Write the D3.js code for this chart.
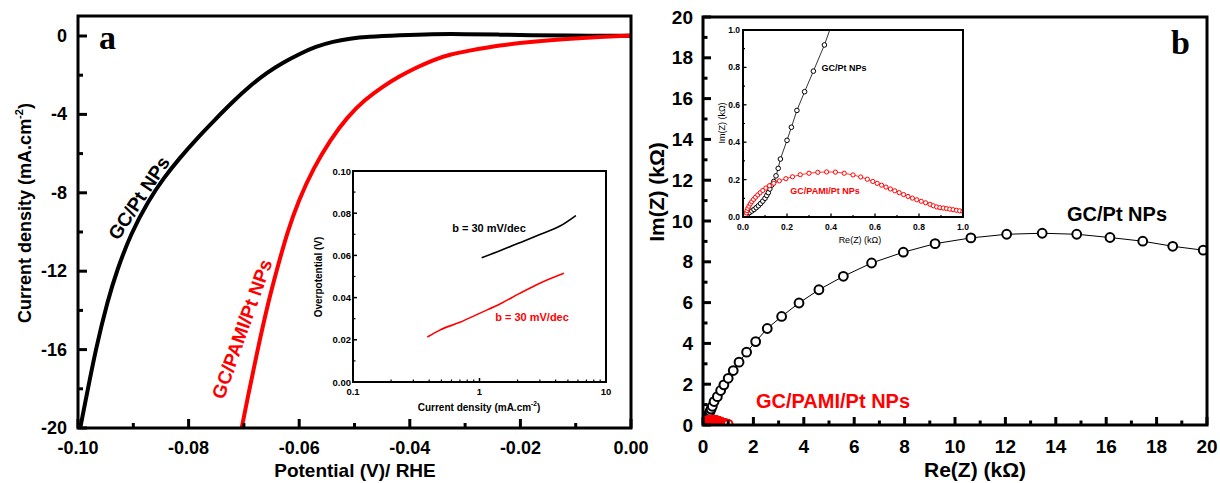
<!DOCTYPE html>
<html>
<head>
<meta charset="utf-8">
<script src="https://cdn.jsdelivr.net/npm/d3@7"></script>
<style>
  body { margin: 0; background: #fff; }
  svg { display: block; }
  text { font-family: "Liberation Sans", Arial, sans-serif; font-weight: bold; }
</style>
</head>
<body>
<svg id="chart" width="1220" height="483"></svg>
<script>
// ---- Polarization curves: [potential (V vs RHE), current density (mA/cm2)]
const lsvPt = [
  [-0.0996, -20.0], [-0.0986, -18.57], [-0.0968, -15.97], [-0.0946, -13.47], [-0.0930, -11.99],
  [-0.0904, -10.05], [-0.0873, -8.42], [-0.0845, -7.24], [-0.0816, -6.22], [-0.0786, -5.26],
  [-0.0753, -4.29], [-0.0719, -3.32], [-0.0687, -2.50], [-0.0658, -1.86], [-0.0629, -1.35],
  [-0.0600, -0.92], [-0.0570, -0.54], [-0.0539, -0.28], [-0.0508, -0.13], [-0.0477, -0.04],
  [-0.0418, 0.04], [-0.0360, 0.10], [-0.0300, 0.10], [-0.0240, 0.07], [-0.0180, 0.04],
  [-0.0120, 0.02], [0, 0.01]
];
const lsvPamiPt = [
  [-0.0704, -20.0], [-0.0694, -18.57], [-0.0675, -15.97], [-0.0655, -13.47], [-0.0641, -11.99],
  [-0.0622, -10.05], [-0.0601, -8.37], [-0.0574, -6.73], [-0.0544, -5.31], [-0.0513, -4.13],
  [-0.0481, -3.24], [-0.0450, -2.60], [-0.0420, -2.07], [-0.0388, -1.61], [-0.0358, -1.22],
  [-0.0327, -0.94], [-0.0297, -0.77], [-0.0237, -0.46], [-0.0177, -0.29], [-0.0116, -0.15],
  [-0.0056, -0.05], [0, 0.02]
];

// ---- Tafel plots: [current density (mA/cm2), overpotential (V)]
const tafelPt = [[1.04, 0.0589], [1.45, 0.0622], [2.08, 0.0660], [3.0, 0.0699], [4.33, 0.0739], [5.78, 0.0789]];
const tafelPamiPt = [[0.387, 0.0213], [0.485, 0.0246], [0.70, 0.0283], [1.04, 0.0330], [1.45, 0.0370],
  [2.08, 0.0420], [3.0, 0.0468], [4.65, 0.0515]];
const tafelSlopeLabel = "b = 30 mV/dec";

// ---- Nyquist plots: [Re(Z) (kOhm), Im(Z) (kOhm)]
const eisPt = [
  [0.008, 0.0], [0.015, 0.008], [0.022, 0.016], [0.030, 0.024], [0.040, 0.032], [0.050, 0.040],
  [0.060, 0.050], [0.070, 0.060], [0.080, 0.072], [0.090, 0.085], [0.100, 0.100], [0.108, 0.115],
  [0.115, 0.130], [0.122, 0.150], [0.130, 0.170], [0.140, 0.190], [0.150, 0.220], [0.160, 0.260],
  [0.170, 0.310], [0.200, 0.410], [0.220, 0.480], [0.245, 0.570], [0.280, 0.670], [0.320, 0.780],
  [0.370, 0.920], [0.44, 1.15], [0.57, 1.39], [0.70, 1.69], [0.83, 1.97], [1.00, 2.29],
  [1.20, 2.67], [1.43, 3.08], [1.73, 3.57], [2.09, 4.09], [2.55, 4.73], [3.12, 5.32],
  [3.81, 5.98], [4.60, 6.63], [5.57, 7.29], [6.69, 7.94], [7.95, 8.47], [9.21, 8.89],
  [10.63, 9.17], [12.05, 9.35], [13.46, 9.40], [14.83, 9.35], [16.15, 9.19], [17.45, 9.01],
  [18.64, 8.76], [19.85, 8.57]
];
const eisPamiPt = [
  [0.010, 0.000], [0.012, 0.010], [0.015, 0.022], [0.018, 0.034], [0.022, 0.046], [0.027, 0.058],
  [0.033, 0.070], [0.040, 0.082], [0.048, 0.094], [0.057, 0.106], [0.067, 0.118], [0.078, 0.130],
  [0.090, 0.142], [0.104, 0.155], [0.120, 0.167], [0.140, 0.180], [0.165, 0.193], [0.195, 0.205],
  [0.225, 0.215], [0.260, 0.226], [0.300, 0.234], [0.340, 0.239], [0.380, 0.241], [0.420, 0.240],
  [0.460, 0.234], [0.500, 0.225], [0.535, 0.214], [0.565, 0.202], [0.590, 0.190], [0.610, 0.180],
  [0.630, 0.170], [0.650, 0.160], [0.670, 0.150], [0.690, 0.140], [0.710, 0.130], [0.730, 0.120],
  [0.750, 0.110], [0.770, 0.101], [0.790, 0.092], [0.810, 0.084], [0.830, 0.076], [0.850, 0.068],
  [0.865, 0.060], [0.880, 0.054], [0.895, 0.050], [0.910, 0.048], [0.925, 0.045], [0.940, 0.042],
  [0.955, 0.039], [0.970, 0.036], [0.985, 0.033], [1.000, 0.030]
];

// ---- Tick values
const lsvXTicks = [-0.10, -0.08, -0.06, -0.04, -0.02, 0.00];
const lsvXMinor = [-0.09, -0.07, -0.05, -0.03, -0.01];
const lsvYTicks = [-20, -16, -12, -8, -4, 0];
const lsvYMinor = [-18, -14, -10, -6, -2];
const tafelXTicks = [0.1, 1, 10];
const tafelXMinor = [0.2, 0.3, 0.4, 0.5, 0.6, 0.7, 0.8, 0.9, 2, 3, 4, 5, 6, 7, 8, 9];
const tafelYTicks = [0.00, 0.02, 0.04, 0.06, 0.08, 0.10];
const tafelYMinor = [0.01, 0.03, 0.05, 0.07, 0.09];
const eisTicks = [0, 2, 4, 6, 8, 10, 12, 14, 16, 18, 20];
const eisMinor = [1, 3, 5, 7, 9, 11, 13, 15, 17, 19];
const eisInsetTicks = [0.0, 0.2, 0.4, 0.6, 0.8, 1.0];
const eisInsetMinor = [0.1, 0.3, 0.5, 0.7, 0.9];

const RED = "#ff0000";
const svg = d3.select("#chart");

// inward tick marks along a horizontal (bottom) axis
function xTicks(g, scale, values, yPos, len, sw) {
  g.selectAll(null).data(values).join("line")
    .attr("x1", d => scale(d)).attr("x2", d => scale(d))
    .attr("y1", yPos).attr("y2", yPos - len)
    .attr("stroke", "#000").attr("stroke-width", sw);
}
// inward tick marks along a vertical (left) axis
function yTicks(g, scale, values, xPos, len, sw) {
  g.selectAll(null).data(values).join("line")
    .attr("y1", d => scale(d)).attr("y2", d => scale(d))
    .attr("x1", xPos).attr("x2", xPos + len)
    .attr("stroke", "#000").attr("stroke-width", sw);
}
function xLabels(g, scale, values, yPos, size, fmt) {
  g.selectAll(null).data(values).join("text")
    .attr("x", d => scale(d)).attr("y", yPos)
    .attr("text-anchor", "middle").attr("dominant-baseline", "central")
    .attr("font-size", size).text(fmt);
}
function yLabels(g, scale, values, xPos, size, fmt) {
  g.selectAll(null).data(values).join("text")
    .attr("x", xPos).attr("y", d => scale(d))
    .attr("text-anchor", "end").attr("dominant-baseline", "central")
    .attr("font-size", size).text(fmt);
}
function frame(g, x0, y0, x1, y1, sw) {
  g.append("rect").attr("x", x0).attr("y", y0).attr("width", x1 - x0).attr("height", y1 - y0)
    .attr("fill", "none").attr("stroke", "#000").attr("stroke-width", sw);
}
function clipRect(id, x0, y0, x1, y1) {
  svg.append("defs").append("clipPath").attr("id", id)
    .append("rect").attr("x", x0).attr("y", y0).attr("width", x1 - x0).attr("height", y1 - y0);
  return `url(#${id})`;
}

// ================= Panel a: polarization curves =================
{
  const L = 78, R = 631, T = 16, B = 428;
  const x = d3.scaleLinear([-0.1, 0], [L, R]);
  const y = d3.scaleLinear([-20, 1.02], [B, T]);
  const g = svg.append("g");
  const line = d3.line().x(d => x(d[0])).y(d => y(d[1])).curve(d3.curveBasis);
  const clip = clipRect("clipA", L, T, R, B);
  const curves = g.append("g").attr("clip-path", clip);
  curves.append("path").attr("d", line(lsvPt)).attr("fill", "none").attr("stroke", "#000")
    .attr("stroke-width", 4).attr("stroke-linejoin", "round");
  curves.append("path").attr("d", line(lsvPamiPt)).attr("fill", "none").attr("stroke", RED)
    .attr("stroke-width", 4).attr("stroke-linejoin", "round");

  xTicks(g, x, lsvXTicks, B, 9, 3);
  xTicks(g, x, lsvXMinor, B, 5, 3);
  yTicks(g, y, lsvYTicks, L, 9, 3);
  yTicks(g, y, lsvYMinor, L, 5, 3);
  frame(g, L, T, R, B, 3);
  xLabels(g, x, lsvXTicks, 448, 18, d => d.toFixed(2));
  yLabels(g, y, lsvYTicks, 67, 18, d => String(d));

  g.append("text").attr("x", 355).attr("y", 477).attr("text-anchor", "middle").attr("font-size", 19)
    .text("Potential (V)/ RHE");
  const yt = g.append("text").attr("transform", "translate(31,213) rotate(-90)")
    .attr("text-anchor", "middle").attr("font-size", 18);
  yt.append("tspan").text("Current density (mA.cm");
  yt.append("tspan").attr("dy", -8).attr("font-size", 11).text("-2");
  yt.append("tspan").attr("dy", 8).text(")");

  g.append("text").attr("x", 99).attr("y", 49).attr("font-size", 34)
    .style("font-family", "'Liberation Serif', 'Times New Roman', serif").text("a");

  g.append("text").attr("transform", "translate(139,198) rotate(-56.5)")
    .attr("text-anchor", "middle").attr("dominant-baseline", "central").attr("font-size", 19)
    .text("GC/Pt NPs");
  g.append("text").attr("transform", "translate(242,329) rotate(-70.5)")
    .attr("text-anchor", "middle").attr("dominant-baseline", "central").attr("font-size", 19)
    .attr("fill", RED).text("GC/PAMI/Pt NPs");

  // ---- inset: Tafel plots
  const iL = 353, iR = 606, iT = 171, iB = 382;
  const ix = d3.scaleLog([0.1, 10], [iL, iR]);
  const iy = d3.scaleLinear([0, 0.1], [iB, iT]);
  const ig = g.append("g");
  ig.append("rect").attr("x", iL).attr("y", iT).attr("width", iR - iL).attr("height", iB - iT).attr("fill", "#fff");
  const tl = d3.line().x(d => ix(d[0])).y(d => iy(d[1])).curve(d3.curveMonotoneX);
  ig.append("path").attr("d", tl(tafelPt)).attr("fill", "none").attr("stroke", "#000").attr("stroke-width", 1.6);
  ig.append("path").attr("d", tl(tafelPamiPt)).attr("fill", "none").attr("stroke", RED).attr("stroke-width", 1.6);
  xTicks(ig, ix, tafelXTicks, iB, 4, 1.5);
  xTicks(ig, ix, tafelXMinor, iB, 2.5, 1.2);
  yTicks(ig, iy, tafelYTicks, iL, 4, 1.5);
  yTicks(ig, iy, tafelYMinor, iL, 2.5, 1.2);
  frame(ig, iL, iT, iR, iB, 2);
  xLabels(ig, ix, tafelXTicks, 391, 9.5, d => String(d));
  yLabels(ig, iy, tafelYTicks, 351, 9.5, d => d.toFixed(2));
  const ixt = ig.append("text").attr("x", 479).attr("y", 407).attr("text-anchor", "middle")
    .attr("dominant-baseline", "central").attr("font-size", 10);
  ixt.append("tspan").text("Current density (mA.cm");
  ixt.append("tspan").attr("dy", -4).attr("font-size", 6.5).text("-2");
  ixt.append("tspan").attr("dy", 4).text(")");
  ig.append("text").attr("transform", "translate(318,277) rotate(-90)").attr("text-anchor", "middle")
    .attr("dominant-baseline", "central").attr("font-size", 10).text("Overpotential (V)");
  ig.append("text").attr("x", 489).attr("y", 228).attr("text-anchor", "middle")
    .attr("dominant-baseline", "central").attr("font-size", 11).text(tafelSlopeLabel);
  ig.append("text").attr("x", 532).attr("y", 317).attr("text-anchor", "middle")
    .attr("dominant-baseline", "central").attr("font-size", 11).attr("fill", RED).text(tafelSlopeLabel);
}

// ================= Panel b: Nyquist plots =================
{
  const L = 703, R = 1207, T = 17, B = 425;
  const x = d3.scaleLinear([0, 20], [L, R]);
  const y = d3.scaleLinear([0, 20], [B, T]);
  const g = svg.append("g");
  const clip = clipRect("clipB", L, T, R, B);
  const data = g.append("g").attr("clip-path", clip);

  // open circles joined by a thin line
  function series(parent, pts, sx, sy, color, r, sw, lw) {
    const ln = d3.line().x(d => sx(d[0])).y(d => sy(d[1]));
    parent.append("path").attr("d", ln(pts)).attr("fill", "none").attr("stroke", color).attr("stroke-width", lw);
    parent.selectAll(null).data(pts).join("circle")
      .attr("cx", d => sx(d[0])).attr("cy", d => sy(d[1])).attr("r", r)
      .attr("fill", "#fff").attr("stroke", color).attr("stroke-width", sw);
  }
  series(data, eisPt, x, y, "#000", 4.4, 2, 1);
  series(data, eisPamiPt, x, y, RED, 4.4, 2, 1);

  xTicks(g, x, eisTicks, B, 8, 3);
  xTicks(g, x, eisMinor, B, 4.5, 3);
  yTicks(g, y, eisTicks, L, 8, 3);
  yTicks(g, y, eisMinor, L, 4.5, 3);
  frame(g, L, T, R, B, 3);
  xLabels(g, x, eisTicks, 446, 19, d => String(d));
  yLabels(g, y, eisTicks, 693, 19, d => String(d));

  g.append("text").attr("x", 975).attr("y", 477).attr("text-anchor", "middle").attr("font-size", 21)
    .text("Re(Z) (kΩ)");
  g.append("text").attr("transform", "translate(664,192) rotate(-90)").attr("text-anchor", "middle")
    .attr("font-size", 21).text("Im(Z) (kΩ)");
  g.append("text").attr("x", 1171).attr("y", 54).attr("font-size", 34)
    .style("font-family", "'Liberation Serif', 'Times New Roman', serif").text("b");
  g.append("text").attr("x", 1117).attr("y", 214).attr("text-anchor", "middle")
    .attr("dominant-baseline", "central").attr("font-size", 20).text("GC/Pt NPs");
  g.append("text").attr("x", 833).attr("y", 401).attr("text-anchor", "middle")
    .attr("dominant-baseline", "central").attr("font-size", 20).attr("fill", RED).text("GC/PAMI/Pt NPs");

  // ---- inset: low-impedance region
  const iL = 743, iR = 963, iT = 30, iB = 217;
  const ix = d3.scaleLinear([0, 1], [iL, iR]);
  const iy = d3.scaleLinear([0, 1], [iB, iT]);
  const ig = g.append("g");
  ig.append("rect").attr("x", iL).attr("y", iT).attr("width", iR - iL).attr("height", iB - iT).attr("fill", "#fff");
  const iclip = clipRect("clipBi", iL, iT, iR, iB);
  const idata = ig.append("g").attr("clip-path", iclip);
  series(idata, eisPt, ix, iy, "#000", 2.3, 1, 0.8);
  series(idata, eisPamiPt, ix, iy, RED, 2.1, 1, 0.8);
  xTicks(ig, ix, eisInsetTicks, iB, 3.5, 1.3);
  xTicks(ig, ix, eisInsetMinor, iB, 2, 1.2);
  yTicks(ig, iy, eisInsetTicks, iL, 3.5, 1.3);
  yTicks(ig, iy, eisInsetMinor, iL, 2, 1.2);
  frame(ig, iL, iT, iR, iB, 2);
  xLabels(ig, ix, eisInsetTicks, 227, 8.5, d => d.toFixed(1));
  yLabels(ig, iy, eisInsetTicks, 740, 8.5, d => d.toFixed(1));
  ig.append("text").attr("x", 860).attr("y", 240).attr("text-anchor", "middle")
    .attr("dominant-baseline", "central").attr("font-size", 9)
    .style("font-weight", "normal").text("Re(Z) (kΩ)");
  ig.append("text").attr("transform", "translate(722,123) rotate(-90)").attr("text-anchor", "middle")
    .attr("dominant-baseline", "central").attr("font-size", 9)
    .style("font-weight", "normal").text("Im(Z) (kΩ)");
  ig.append("text").attr("x", 844).attr("y", 68).attr("text-anchor", "middle")
    .attr("dominant-baseline", "central").attr("font-size", 9).text("GC/Pt NPs");
  ig.append("text").attr("x", 825).attr("y", 191).attr("text-anchor", "middle")
    .attr("dominant-baseline", "central").attr("font-size", 9).attr("fill", RED).text("GC/PAMI/Pt NPs");
}
</script>
</body>
</html>
